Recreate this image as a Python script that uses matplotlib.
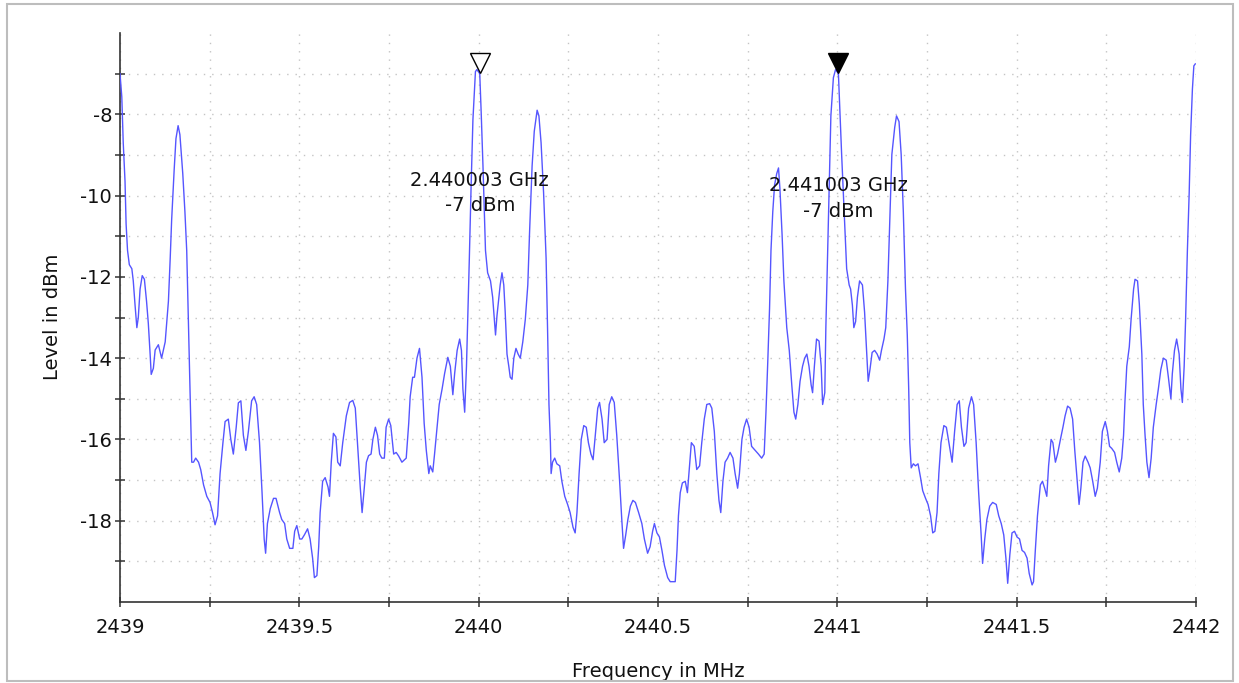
import matplotlib.pyplot as plt
from matplotlib.patches import Rectangle
from matplotlib.ticker import MultipleLocator, FixedLocator, FormatStrFormatter
import matplotlib.transforms as mtransforms

# spectrum trace
freq_mhz = [
    2439.000, 2439.005, 2439.009, 2439.014, 2439.017, 2439.021, 2439.026, 2439.033, 2439.037, 2439.042,
    2439.047, 2439.051, 2439.056, 2439.062, 2439.068, 2439.074, 2439.079, 2439.084, 2439.087, 2439.093,
    2439.098, 2439.107, 2439.116, 2439.126, 2439.135, 2439.140, 2439.144, 2439.151, 2439.156, 2439.162,
    2439.167, 2439.175, 2439.181, 2439.186, 2439.191, 2439.195, 2439.200, 2439.205, 2439.211, 2439.219,
    2439.225, 2439.233, 2439.242, 2439.251, 2439.258, 2439.265, 2439.272, 2439.279, 2439.287, 2439.293,
    2439.302, 2439.309, 2439.316, 2439.324, 2439.330, 2439.337, 2439.344, 2439.351, 2439.358, 2439.367,
    2439.374, 2439.381, 2439.389, 2439.396, 2439.402, 2439.406, 2439.411, 2439.419, 2439.428, 2439.435,
    2439.445, 2439.451, 2439.459, 2439.465, 2439.473, 2439.482, 2439.487, 2439.493, 2439.501, 2439.507,
    2439.514, 2439.523, 2439.530, 2439.537, 2439.542, 2439.549, 2439.554, 2439.558, 2439.565, 2439.572,
    2439.580, 2439.584, 2439.589, 2439.595, 2439.602, 2439.607, 2439.614, 2439.621, 2439.631, 2439.640,
    2439.649, 2439.656, 2439.662, 2439.670, 2439.675, 2439.681, 2439.687, 2439.693, 2439.700, 2439.705,
    2439.712, 2439.718, 2439.724, 2439.730, 2439.737, 2439.742, 2439.749, 2439.755, 2439.763, 2439.770,
    2439.777, 2439.786, 2439.793, 2439.798, 2439.805, 2439.809, 2439.816, 2439.821, 2439.828, 2439.835,
    2439.842, 2439.848, 2439.854, 2439.861, 2439.865, 2439.872, 2439.877, 2439.884, 2439.890, 2439.898,
    2439.905, 2439.914, 2439.921, 2439.928, 2439.933, 2439.940, 2439.947, 2439.952, 2439.956, 2439.961,
    2439.966, 2439.970, 2439.974, 2439.979, 2439.984, 2439.991, 2439.995, 2440.003, 2440.007, 2440.012,
    2440.019, 2440.025, 2440.033, 2440.039, 2440.047, 2440.051, 2440.060, 2440.065, 2440.070, 2440.074,
    2440.079, 2440.084, 2440.088, 2440.093, 2440.098, 2440.104, 2440.110, 2440.116, 2440.123, 2440.130,
    2440.137, 2440.142, 2440.149, 2440.155, 2440.163, 2440.168, 2440.174, 2440.181, 2440.188, 2440.192,
    2440.196, 2440.200, 2440.202, 2440.206, 2440.212, 2440.218, 2440.226, 2440.232, 2440.240, 2440.248,
    2440.255, 2440.263, 2440.269, 2440.274, 2440.280, 2440.286, 2440.293, 2440.300, 2440.306, 2440.313,
    2440.319, 2440.325, 2440.332, 2440.337, 2440.344, 2440.350, 2440.358, 2440.364, 2440.371, 2440.378,
    2440.385, 2440.393, 2440.399, 2440.404, 2440.410, 2440.416, 2440.423, 2440.430, 2440.437, 2440.446,
    2440.455, 2440.462, 2440.471, 2440.478, 2440.485, 2440.490, 2440.497, 2440.504, 2440.511, 2440.518,
    2440.527, 2440.534, 2440.541, 2440.548, 2440.553, 2440.557, 2440.562, 2440.568, 2440.576, 2440.582,
    2440.588, 2440.593, 2440.601, 2440.608, 2440.616, 2440.622, 2440.629, 2440.636, 2440.644, 2440.650,
    2440.657, 2440.664, 2440.670, 2440.675, 2440.681, 2440.687, 2440.694, 2440.701, 2440.709, 2440.715,
    2440.722, 2440.727, 2440.734, 2440.740, 2440.747, 2440.754, 2440.761, 2440.771, 2440.780, 2440.789,
    2440.796, 2440.801, 2440.806, 2440.811, 2440.815, 2440.820, 2440.825, 2440.831, 2440.836, 2440.840,
    2440.846, 2440.851, 2440.859, 2440.866, 2440.873, 2440.879, 2440.884, 2440.890, 2440.896, 2440.903,
    2440.909, 2440.915, 2440.921, 2440.927, 2440.931, 2440.936, 2440.942, 2440.949, 2440.955, 2440.959,
    2440.965, 2440.968, 2440.973, 2440.978, 2440.982, 2440.989, 2440.995, 2441.003, 2441.006, 2441.012,
    2441.019, 2441.026, 2441.033, 2441.037, 2441.042, 2441.046, 2441.051, 2441.056, 2441.062, 2441.070,
    2441.076, 2441.082, 2441.086, 2441.091, 2441.097, 2441.104, 2441.111, 2441.118, 2441.123, 2441.130,
    2441.135, 2441.141, 2441.147, 2441.152, 2441.160, 2441.165, 2441.172, 2441.178, 2441.184, 2441.190,
    2441.195, 2441.199, 2441.202, 2441.206, 2441.212, 2441.218, 2441.225, 2441.232, 2441.238, 2441.246,
    2441.253, 2441.260, 2441.266, 2441.272, 2441.278, 2441.283, 2441.289, 2441.297, 2441.304, 2441.311,
    2441.320, 2441.327, 2441.334, 2441.340, 2441.346, 2441.353, 2441.359, 2441.366, 2441.374, 2441.380,
    2441.387, 2441.394, 2441.401, 2441.405, 2441.411, 2441.417, 2441.425, 2441.433, 2441.443, 2441.450,
    2441.457, 2441.464, 2441.470, 2441.475, 2441.481, 2441.487, 2441.494, 2441.501, 2441.508, 2441.515,
    2441.522, 2441.529, 2441.535, 2441.543, 2441.547, 2441.552, 2441.558, 2441.566, 2441.572, 2441.578,
    2441.584, 2441.589, 2441.596, 2441.601, 2441.608, 2441.614, 2441.622, 2441.629, 2441.635, 2441.642,
    2441.649, 2441.656, 2441.662, 2441.668, 2441.674, 2441.679, 2441.685, 2441.691, 2441.699, 2441.705,
    2441.712, 2441.719, 2441.725, 2441.733, 2441.739, 2441.747, 2441.753, 2441.759, 2441.765, 2441.773,
    2441.779, 2441.786, 2441.793, 2441.798, 2441.802, 2441.807, 2441.814, 2441.819, 2441.826, 2441.830,
    2441.837, 2441.842, 2441.849, 2441.853, 2441.858, 2441.863, 2441.869, 2441.875, 2441.881, 2441.889,
    2441.895, 2441.902, 2441.909, 2441.917, 2441.923, 2441.930, 2441.934, 2441.940, 2441.946, 2441.953,
    2441.958, 2441.962, 2441.967, 2441.971, 2441.976, 2441.981, 2441.985, 2441.990, 2441.994, 2441.998,
]
level_dbm = [
    -7.00, -7.57, -8.70, -9.65, -10.70, -11.35, -11.70, -11.80, -12.10, -12.70,
    -13.25, -13.00, -12.30, -11.97, -12.06, -12.60, -13.15, -13.90, -14.40, -14.25,
    -13.80, -13.67, -14.00, -13.60, -12.60, -11.54, -10.60, -9.37, -8.60, -8.28,
    -8.50, -9.46, -10.40, -11.35, -13.25, -14.76, -16.56, -16.56, -16.46, -16.56,
    -16.74, -17.12, -17.40, -17.55, -17.80, -18.10, -17.88, -16.84, -16.08, -15.56,
    -15.50, -16.00, -16.36, -15.70, -15.10, -15.05, -15.90, -16.27, -15.80, -15.05,
    -14.95, -15.14, -16.08, -17.30, -18.45, -18.80, -18.07, -17.70, -17.45, -17.45,
    -17.80, -17.97, -18.07, -18.45, -18.68, -18.68, -18.26, -18.12, -18.45, -18.45,
    -18.35, -18.20, -18.45, -18.92, -19.40, -19.35, -18.64, -17.80, -17.03, -16.94,
    -17.17, -17.40, -16.56, -15.85, -15.94, -16.56, -16.65, -16.08, -15.42, -15.09,
    -15.04, -15.23, -16.08, -17.20, -17.80, -17.20, -16.56, -16.40, -16.36, -16.00,
    -15.70, -15.90, -16.36, -16.46, -16.46, -15.70, -15.50, -15.66, -16.36, -16.32,
    -16.41, -16.56, -16.50, -16.46, -15.60, -14.95, -14.47, -14.47, -14.00, -13.76,
    -14.47, -15.60, -16.27, -16.84, -16.65, -16.80, -16.36, -15.70, -15.14, -14.76,
    -14.38, -13.98, -14.20, -14.90, -14.38, -13.81, -13.53, -13.81, -14.76, -15.33,
    -14.20, -12.87, -11.54, -9.74, -8.13, -6.95, -6.90, -7.00, -7.95, -9.27,
    -11.35, -11.90, -12.10, -12.50, -13.43, -12.96, -12.20, -11.90, -12.20, -12.87,
    -13.90, -14.20, -14.47, -14.52, -14.00, -13.76, -13.90, -14.00, -13.60, -13.05,
    -12.20, -10.88, -9.27, -8.42, -7.90, -8.04, -8.70, -9.93, -11.54, -13.25,
    -15.14, -16.08, -16.84, -16.56, -16.46, -16.60, -16.65, -17.03, -17.40, -17.60,
    -17.80, -18.16, -18.30, -17.80, -16.84, -16.00, -15.66, -15.70, -16.08, -16.36,
    -16.50, -15.90, -15.23, -15.09, -15.50, -16.08, -16.00, -15.14, -14.95, -15.09,
    -15.90, -17.03, -17.97, -18.68, -18.35, -17.97, -17.64, -17.50, -17.55, -17.80,
    -18.07, -18.45, -18.80, -18.64, -18.26, -18.07, -18.30, -18.40, -18.73, -19.10,
    -19.40, -19.50, -19.50, -19.50, -18.73, -17.88, -17.31, -17.07, -17.03, -17.31,
    -16.65, -16.08, -16.17, -16.74, -16.65, -16.08, -15.50, -15.14, -15.12, -15.23,
    -15.80, -16.84, -17.50, -17.80, -17.03, -16.56, -16.46, -16.32, -16.46, -16.84,
    -17.20, -16.84, -16.00, -15.70, -15.50, -15.70, -16.17, -16.27, -16.36, -16.46,
    -16.36, -15.33, -14.10, -12.78, -11.35, -10.40, -9.74, -9.46, -9.32, -9.84,
    -10.97, -12.10, -13.25, -13.81, -14.66, -15.33, -15.50, -15.14, -14.57, -14.20,
    -14.00, -13.90, -14.20, -14.66, -14.85, -14.20, -13.53, -13.58, -14.20, -15.14,
    -14.85, -13.25, -11.35, -9.46, -8.04, -7.10, -6.90, -7.00, -7.66, -8.99,
    -10.40, -11.80, -12.20, -12.30, -12.70, -13.25, -13.10, -12.50, -12.10, -12.20,
    -12.87, -13.90, -14.57, -14.28, -13.86, -13.81, -13.90, -14.05, -13.81, -13.53,
    -13.25, -12.10, -10.40, -8.99, -8.32, -8.04, -8.18, -8.99, -10.40, -12.30,
    -13.43, -14.76, -16.08, -16.70, -16.60, -16.65, -16.60, -16.94, -17.26, -17.45,
    -17.60, -17.88, -18.30, -18.26, -17.80, -16.84, -16.08, -15.66, -15.70, -16.08,
    -16.56, -15.80, -15.14, -15.05, -15.70, -16.17, -16.08, -15.23, -14.95, -15.14,
    -16.08, -17.31, -18.35, -19.05, -18.45, -17.97, -17.64, -17.55, -17.60, -17.88,
    -18.07, -18.35, -18.92, -19.54, -18.83, -18.30, -18.26, -18.40, -18.45, -18.73,
    -18.78, -18.92, -19.30, -19.58, -19.50, -18.73, -17.88, -17.12, -17.03, -17.20,
    -17.40, -16.65, -16.00, -16.08, -16.56, -16.36, -16.00, -15.70, -15.42, -15.18,
    -15.23, -15.50, -16.27, -16.94, -17.60, -17.20, -16.56, -16.41, -16.56, -16.70,
    -17.03, -17.40, -17.20, -16.56, -15.80, -15.56, -15.80, -16.17, -16.22, -16.32,
    -16.56, -16.80, -16.46, -15.90, -15.05, -14.20, -13.72, -13.05, -12.30, -12.06,
    -12.10, -12.67, -13.90, -15.14, -15.90, -16.56, -16.94, -16.46, -15.70, -15.14,
    -14.76, -14.28, -14.00, -14.05, -14.47, -15.00, -14.38, -13.81, -13.53, -13.90,
    -14.76, -15.09, -14.20, -13.05, -11.35, -9.93, -8.51, -7.38, -6.81, -6.76,
]

# markers
marker_freq_mhz = [2440.003, 2441.003]
marker_level = [-7, -7]
marker_filled = [False, True]

x_ticks = [2439, 2439.5, 2440, 2440.5, 2441, 2441.5, 2442]
y_ticks = [-18, -16, -14, -12, -10, -8]
y_minor = [-19, -17, -15, -13, -11, -9, -7]

W, H = 1239, 683
fig = plt.figure(figsize=(W / 100, H / 100), dpi=100)
ax = fig.add_axes([120 / W, 1 - 602 / H, (1196 - 120) / W, (602 - 33) / H])

ax.plot(freq_mhz, level_dbm, color='#5555ff', linewidth=1.0, zorder=3)

ax.set_xlim(2439, 2442)
ax.set_ylim(-20, -6)
ax.xaxis.set_major_locator(FixedLocator(x_ticks))
ax.xaxis.set_minor_locator(MultipleLocator(0.25))
ax.xaxis.set_major_formatter(FormatStrFormatter('%g'))
ax.yaxis.set_major_locator(FixedLocator(y_ticks))
ax.yaxis.set_minor_locator(FixedLocator(y_minor))
ax.yaxis.set_major_formatter(FormatStrFormatter('%g'))

ax.grid(which='both', color='#c4c4c4', linestyle=(0, (1, 5)), linewidth=1.0)
for s in ['top', 'right']:
    ax.spines[s].set_visible(False)
for s in ['left', 'bottom']:
    ax.spines[s].set_color('#333333')
    ax.spines[s].set_linewidth(1.2)

ax.tick_params(which='both', direction='inout', length=7.5, width=1.1, color='#333333',
               labelsize=14, labelcolor='#111111')
ax.tick_params(axis='x', which='both', pad=8)
ax.tick_params(axis='y', which='both', pad=2)

for f, lv, filled in zip(marker_freq_mhz, marker_level, marker_filled):
    tr = mtransforms.offset_copy(ax.transData, fig=fig, x=0, y=7.5, units='points')
    ax.plot([f], [lv], marker='v', markersize=15, transform=tr, clip_on=False,
            markerfacecolor='black' if filled else 'white', markeredgecolor='black',
            markeredgewidth=1.0, linestyle='none', zorder=5)

label_offsets = [-86, -90]
for f, lv, dy in zip(marker_freq_mhz, marker_level, label_offsets):
    ax.annotate(f'{f / 1000:.6f} GHz\n{lv} dBm', xy=(f, lv), xytext=(0, dy),
                textcoords='offset points', ha='center', va='center',
                fontsize=14, linespacing=1.45, color='#111111', zorder=6)

fig.text(53 / W, 1 - 317 / H, 'Level in dBm', rotation=90, ha='center', va='center',
         fontsize=14, color='#111111')
fig.text(658 / W, 1 - 677 / H, 'Frequency in MHz', ha='center', va='baseline',
         fontsize=14, color='#111111')

# window frame; the bottom edge cuts the x label
fig.patches.append(Rectangle((0, 0), 1, 2 / H, transform=fig.transFigure,
                             facecolor='white', edgecolor='none', zorder=20))
fig.patches.append(Rectangle((7 / W, 2 / H), (1233 - 7) / W, (679 - 2) / H,
                             transform=fig.transFigure, facecolor='none',
                             edgecolor='#bdbdbd', linewidth=1.5, zorder=21))

fig.savefig('out.png', dpi=100)
